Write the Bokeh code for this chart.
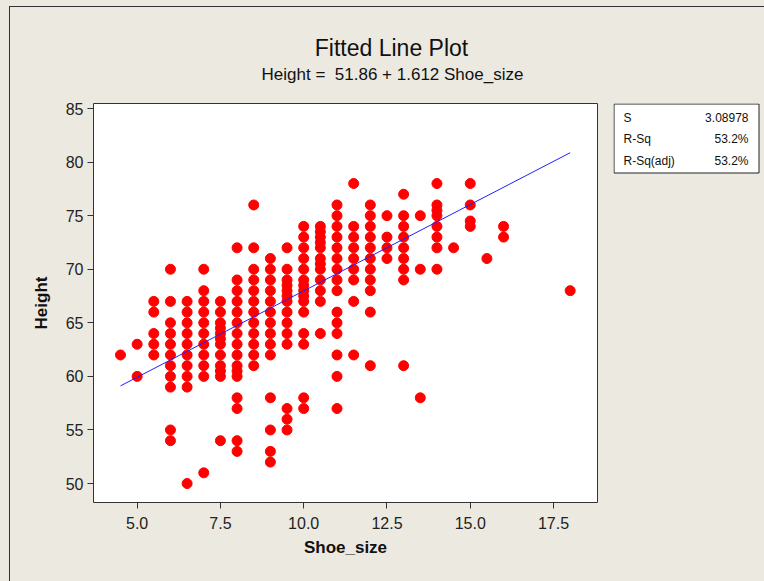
from bokeh.plotting import figure
from bokeh.layouts import column, row
from bokeh.models import Range1d, FixedTicker, NumeralTickFormatter
from bokeh.core.properties import value
from bokeh.embed import file_html
from bokeh.resources import INLINE

# ---- data ----
h_4_5 = [62]
h_5_0 = [63, 60]
h_5_5 = [67, 66, 64, 63, 62]
h_6_0 = [70, 67, 65, 64, 63, 62, 61, 60, 59, 55, 54]
h_6_5 = [67, 66, 65, 64, 63, 62, 61, 60, 59, 50]
h_7_0 = [70, 68, 67, 66, 65, 64, 63, 62, 61, 60, 51]
h_7_5 = [67, 66, 65, 64.5, 64, 63.5, 63, 62, 61, 60.5, 60, 54]
h_8_0 = [72, 69, 68, 67, 66, 65, 64, 63, 62, 61, 60.5, 60, 58, 57, 54, 53]
h_8_5 = [76, 72, 70, 69, 68, 67, 66, 65, 64, 63, 62, 61]
h_9_0 = [71, 70, 69, 68, 67, 66, 65, 64, 63, 62, 58, 55, 53, 52]
h_9_5 = [72, 70, 69, 68.5, 68, 67.5, 67, 66, 65, 64, 63, 57, 56, 55]
h_10_0 = [74, 73, 72, 71, 70, 69, 68.5, 68, 67.5, 67, 66, 64, 63, 58, 57]
h_10_5 = [74, 73.5, 73, 72.5, 72, 71, 70.5, 70, 69, 68, 67, 64]
h_11_0 = [76, 75, 74, 73, 72, 71, 70, 69, 68, 66, 65, 64, 62, 60, 57]
h_11_5 = [78, 74, 73, 72, 71, 70, 69, 67, 62]
h_12_0 = [76, 75, 74, 73, 72, 71, 70, 69, 68, 66, 61]
h_12_5 = [75, 73, 72, 71]
h_13_0 = [77, 75, 74, 73, 72, 71, 70, 69, 61]
h_13_5 = [75, 70, 58]
h_14_0 = [78, 76, 75.5, 75, 74, 73, 72, 70]
h_14_5 = [72]
h_15_0 = [78, 76, 74.5, 74]
h_15_5 = [71]
h_16_0 = [74, 73]
h_18_0 = [68]

size_levels = [4.5, 5.0, 5.5, 6.0, 6.5, 7.0, 7.5, 8.0, 8.5, 9.0, 9.5, 10.0, 10.5,
               11.0, 11.5, 12.0, 12.5, 13.0, 13.5, 14.0, 14.5, 15.0, 15.5, 16.0, 18.0]
height_columns = [h_4_5, h_5_0, h_5_5, h_6_0, h_6_5, h_7_0, h_7_5, h_8_0, h_8_5, h_9_0,
                  h_9_5, h_10_0, h_10_5, h_11_0, h_11_5, h_12_0, h_12_5, h_13_0, h_13_5,
                  h_14_0, h_14_5, h_15_0, h_15_5, h_16_0, h_18_0]

intercept = 51.86
slope = 1.612
title_text = "Fitted Line Plot"
subtitle_text = "Height =\u00a0 51.86 + 1.612 Shoe_size"
stat_names = ["S", "R-Sq", "R-Sq(adj)"]
stat_values = ["3.08978", "53.2%", "53.2%"]
x_ticks = [5.0, 7.5, 10.0, 12.5, 15.0, 17.5]
y_ticks = [50, 55, 60, 65, 70, 75, 80, 85]

shoe_size = []
height = []
for s, col in zip(size_levels, height_columns):
    shoe_size += [s] * len(col)
    height += col

x_fit = [min(shoe_size), max(shoe_size)]
y_fit = [intercept + slope * v for v in x_fit]

BG = "#ECE9E0"
EDGE = "#333333"
FONT = "Liberation Sans"
# page background with the outer frame lines (left and top) of the graph window
PAGE_STYLE = {
    "background-color": BG,
    "background-image": f"linear-gradient({EDGE}, {EDGE}), linear-gradient({EDGE}, {EDGE})",
    "background-size": "1px 600px, 800px 1px",
    "background-position": "9px 6px, 9px 6px",
    "background-repeat": "no-repeat",
}


def blank(width, height, xr, yr, top=0, bottom=0):
    f = figure(width=width, height=height, output_backend="svg", toolbar_location=None,
               x_range=Range1d(*xr), y_range=Range1d(*yr),
               x_axis_location=None, y_axis_location=None,
               min_border_left=0, min_border_right=0, min_border_top=top, min_border_bottom=bottom)
    f.grid.visible = False
    f.outline_line_color = None
    f.background_fill_color = None
    f.border_fill_color = None
    return f


# ---- top strip: titles (pixel coordinates, y downward) ----
top = blank(764, 95, (0, 764), (95, 0))
top.text(x=[391], y=[47], text=[title_text], text_font=value(FONT), text_font_size="23px",
         text_align="center", text_baseline="alphabetic", text_color="#111111")
top.text(x=[392], y=[74], text=[subtitle_text], text_font=value(FONT), text_font_size="17px",
         text_align="center", text_baseline="alphabetic", text_color="#111111")

# ---- main scatter plot ----
p = figure(width=613, height=486, output_backend="svg", toolbar_location=None,
           x_range=Range1d(3.69, 18.82), y_range=Range1d(48.23, 85.47),
           min_border_left=93, min_border_right=16, min_border_top=8, min_border_bottom=79)
p.background_fill_color = "white"
p.border_fill_color = None
p.outline_line_color = EDGE
p.outline_line_width = 1
p.grid.visible = False

p.scatter(shoe_size, height, size=10, color="#FF0000", line_color="#FF0000")
p.line(x_fit, y_fit, line_color="#2020FF", line_width=1)

for ax in (p.xaxis[0], p.yaxis[0]):
    ax.axis_line_color = None
    ax.major_tick_line_color = EDGE
    ax.major_tick_in = 0
    ax.major_tick_out = 6
    ax.minor_tick_line_color = None
    ax.major_label_text_font = FONT
    ax.major_label_text_font_size = "16px"
    ax.major_label_text_color = "#222222"
    ax.axis_label_text_font = FONT
    ax.axis_label_text_font_size = "17px"
    ax.axis_label_text_font_style = "bold"
    ax.axis_label_text_color = "#111111"

p.xaxis[0].ticker = FixedTicker(ticks=x_ticks)
p.xaxis[0].formatter = NumeralTickFormatter(format="0.0")
p.xaxis[0].axis_label = "Shoe_size"
p.xaxis[0].major_label_standoff = 8
p.xaxis[0].axis_label_standoff = 6
p.yaxis[0].ticker = FixedTicker(ticks=y_ticks)
p.yaxis[0].axis_label = "Height"
p.yaxis[0].major_label_standoff = 4
p.yaxis[0].axis_label_standoff = 12

# ---- right strip: statistics box (frame aligned with the main plot, pixel coords) ----
stats = blank(151, 486, (0, 151), (400, 1), top=8, bottom=79)
stats.quad(left=[0.5], right=[145.5], top=[1.5], bottom=[70.5],
           fill_color="white", line_color="#222222", line_width=1)
row_y = [15, 36, 58]
stats.text(x=[10] * 3, y=row_y, text=stat_names, text_font=value(FONT), text_font_size="12px",
           text_align="left", text_baseline="middle", text_color="#111111")
stats.text(x=[135] * 3, y=row_y, text=stat_values, text_font=value(FONT), text_font_size="12px",
           text_align="right", text_baseline="middle", text_color="#111111")

bottom = row(p, stats, spacing=0)
layout = column(top, bottom, spacing=0, styles=PAGE_STYLE)
open("out.html", "w").write(file_html(layout, INLINE))
